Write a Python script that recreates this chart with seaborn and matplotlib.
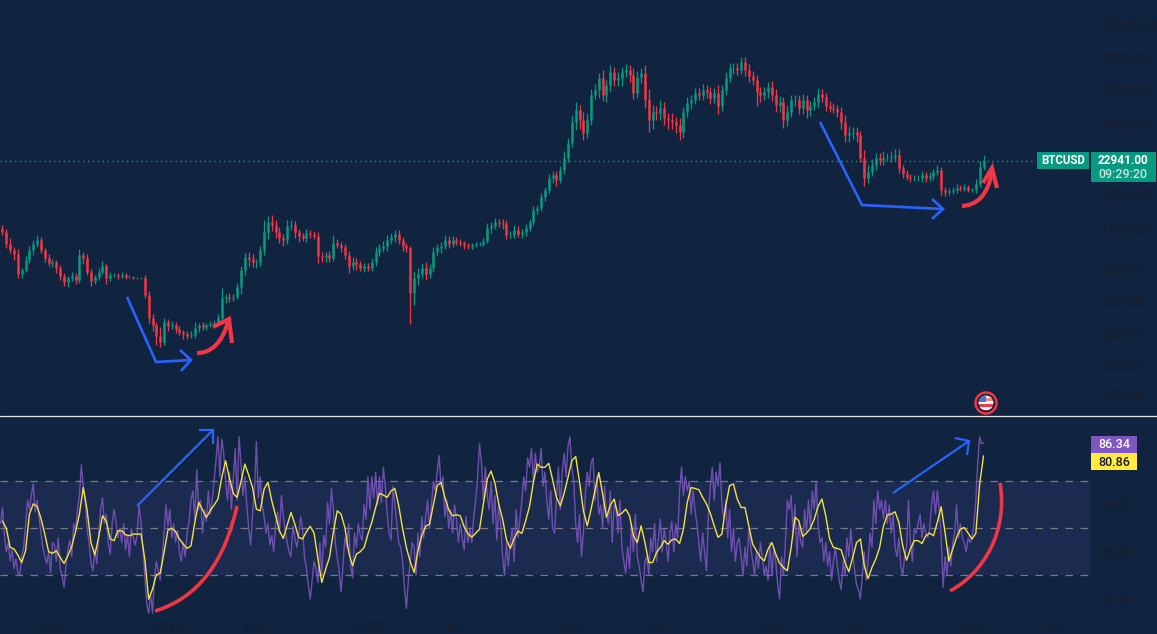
import numpy as np
import pandas as pd
import seaborn as sns
import matplotlib
matplotlib.use('Agg')
import matplotlib.pyplot as plt
import matplotlib.dates as mdates
from matplotlib.patches import Circle, PathPatch, Rectangle
from matplotlib.path import Path
from matplotlib.ticker import FixedLocator, FixedFormatter, NullLocator

# weekly BTCUSD closes
closes = [
    10600, 9300, 8680, 8320, 6710, 7000, 7800, 8680, 9300, 9700, 8680, 7960, 7550, 7630, 7160, 6550,
    6140, 6410, 6550, 6270, 8230, 7960, 6850, 6200, 6480, 6850, 7310, 6410, 6620, 6620, 6550, 6620,
    6480, 6480, 6410, 6410, 6410, 5330, 4150, 3850, 3420, 3210, 3990, 3810, 3850, 3690, 3570, 3490,
    3420, 3450, 3730, 3850, 3770, 3850, 3900, 3950, 4150, 5160, 5210, 5160, 5210, 5810, 7000, 8050,
    7880, 7630, 7630, 8680, 10600, 11800, 11400, 10600, 9900, 9700, 11300, 11400, 10600, 10120, 9900, 10450,
    10340, 10120, 8150, 8050, 8230, 7960, 9400, 9170, 8970, 8230, 7310, 7630, 7470, 7160, 7310, 7160,
    7630, 8520, 8880, 9070, 9700, 10000, 10340, 9700, 9070, 8880, 5450, 6410, 6710, 7160, 6710, 7160,
    8520, 8880, 9070, 9700, 9300, 9700, 9500, 9400, 9170, 9070, 9170, 9300, 9300, 9600, 11050, 11300,
    11800, 11650, 11500, 10250, 10250, 10800, 10340, 10600, 11050, 11800, 13400, 13700, 15450, 16700, 18950, 19600,
    18600, 20700, 23650, 27800, 34850, 39700, 35600, 30950, 35600, 46800, 49400, 56250, 46800, 52100, 60000, 55050,
    56250, 60000, 61350, 58100, 47800, 56900, 59400, 44300, 35600, 38850, 38500, 40600, 36400, 35600, 34850, 33750,
    31250, 38850, 42800, 44300, 47800, 46800, 49400, 48300, 45300, 47800, 41500, 49400, 56250, 62700, 62700, 61350,
    66900, 61350, 57500, 55050, 48300, 46800, 48300, 51000, 46800, 41950, 43350, 35600, 38850, 44300, 44300, 40600,
    44300, 39700, 41500, 43350, 47300, 45700, 41500, 40600, 40100, 38850, 34850, 30300, 30950, 31250, 30300, 23650,
    18950, 20300, 21900, 23650, 23100, 23650, 23650, 23900, 24400, 21200, 19900, 19150, 18950, 18950, 18950, 19600,
    18950, 19400, 20300, 20700, 16700, 16350, 16500, 16700, 17050, 16900, 17250, 16700, 16700, 17800, 21450, 22941,
]
first_open = 10900

# wick lengths in percent beyond the candle body
high_pct = [
    4, 3, 6, 3, 5, 2, 4, 5, 4, 5, 3, 2, 4, 3, 2, 3,
    3, 2, 4, 3, 7, 3, 4, 3, 2, 4, 6, 2, 3, 2, 2, 3,
    2, 2, 1, 1, 1, 3, 4, 5, 3, 10, 4, 3, 4, 3, 3, 2,
    3, 4, 6, 2, 3, 2, 3, 3, 4, 12, 3, 4, 3, 5, 4, 5,
    6, 5, 3, 5, 13, 7, 8, 6, 5, 4, 7, 6, 4, 3, 3, 4,
    3, 3, 4, 4, 3, 4, 9, 4, 3, 3, 4, 6, 4, 3, 3, 3,
    4, 5, 4, 6, 5, 5, 4, 4, 3, 3, 2, 8, 7, 5, 6, 4,
    5, 4, 4, 5, 4, 4, 3, 3, 2, 2, 2, 2, 2, 3, 5, 4,
    4, 3, 4, 5, 4, 5, 4, 3, 4, 3, 4, 3, 4, 3, 5, 4,
    4, 4, 7, 5, 8, 9, 6, 9, 8, 6, 7, 6, 9, 6, 8, 6,
    7, 6, 7, 5, 8, 6, 5, 9, 12, 8, 7, 9, 7, 6, 8, 6,
    8, 6, 7, 5, 6, 5, 6, 5, 6, 6, 9, 5, 7, 6, 6, 6,
    6, 5, 7, 5, 6, 6, 5, 5, 7, 6, 7, 5, 8, 6, 5, 6,
    7, 5, 5, 5, 6, 5, 4, 5, 5, 5, 6, 8, 8, 6, 6, 4,
    9, 8, 7, 5, 5, 8, 5, 7, 6, 6, 3, 4, 3, 3, 3, 4,
    3, 4, 3, 5, 3, 3, 3, 3, 4, 3, 3, 2, 2, 5, 6, 6,
]
low_pct = [
    4, 5, 3, 6, 4, 4, 2, 3, 5, 4, 3, 4, 3, 4, 5, 4,
    4, 5, 3, 4, 3, 6, 3, 5, 3, 3, 2, 6, 3, 2, 3, 2,
    2, 1, 1, 1, 1, 3, 5, 6, 9, 6, 4, 5, 3, 4, 3, 5,
    3, 2, 3, 4, 3, 3, 2, 3, 2, 3, 5, 4, 3, 2, 7, 5,
    7, 5, 6, 4, 5, 8, 6, 7, 5, 6, 4, 5, 7, 6, 3, 4,
    4, 3, 7, 5, 5, 4, 3, 3, 5, 4, 7, 4, 6, 3, 4, 3,
    3, 4, 5, 4, 5, 4, 5, 4, 5, 4, 29, 12, 7, 5, 7, 4,
    4, 5, 5, 3, 5, 3, 3, 3, 4, 3, 3, 2, 2, 2, 2, 5,
    3, 4, 5, 5, 3, 4, 3, 4, 5, 3, 3, 4, 3, 4, 3, 5,
    6, 3, 4, 5, 4, 8, 9, 7, 5, 5, 4, 8, 6, 7, 6, 6,
    6, 8, 5, 7, 6, 5, 6, 8, 12, 9, 7, 8, 7, 9, 7, 8,
    8, 6, 5, 6, 4, 5, 5, 6, 6, 5, 8, 5, 5, 4, 6, 5,
    4, 6, 6, 5, 14, 7, 5, 6, 6, 7, 7, 8, 6, 5, 6, 6,
    6, 8, 6, 4, 5, 5, 5, 4, 4, 5, 7, 7, 7, 6, 7, 5,
    8, 5, 4, 6, 5, 5, 3, 5, 4, 5, 5, 3, 4, 3, 3, 4,
    4, 3, 4, 3, 6, 5, 3, 3, 3, 3, 2, 2, 2, 3, 3, 4,
]

# RSI read twice a week
rsi = [
    52, 59, 47, 40, 44, 36, 41, 33, 37, 31, 30, 38, 42, 51, 62, 58,
    64, 69, 57, 62, 55, 48, 42, 38, 35, 40, 31, 44, 43, 36, 46, 33,
    30, 25, 34, 41, 45, 38, 52, 49, 58, 64, 77, 68, 62, 50, 44, 35,
    32, 41, 35, 47, 58, 63, 52, 56, 44, 39, 52, 58, 53, 46, 50, 44,
    52, 41, 47, 38, 50, 46, 43, 47, 60, 53, 42, 30, 18, 14, 22, 14,
    29, 36, 32, 28, 37, 48, 60, 51, 58, 46, 52, 44, 49, 40, 36, 44,
    38, 48, 53, 62, 66, 54, 75, 58, 62, 48, 58, 53, 66, 56, 62, 70,
    79, 89, 72, 88, 82, 70, 62, 74, 58, 71, 84, 62, 89, 78, 64, 72,
    60, 50, 43, 56, 66, 87, 63, 72, 60, 55, 48, 52, 43, 47, 40, 52,
    57, 48, 64, 55, 49, 44, 40, 38, 51, 46, 42, 47, 55, 50, 38, 33,
    26, 20, 28, 36, 33, 27, 44, 30, 47, 42, 61, 52, 67, 58, 44, 38,
    32, 23, 34, 46, 42, 52, 34, 29, 48, 42, 52, 47, 45, 60, 54, 72,
    58, 72, 63, 74, 60, 72, 61, 76, 68, 56, 48, 45, 68, 60, 52, 44,
    42, 36, 25, 16, 28, 36, 44, 42, 30, 48, 38, 55, 46, 55, 62, 50,
    60, 70, 66, 74, 81, 68, 72, 55, 62, 50, 58, 48, 60, 54, 44, 52,
    46, 41, 55, 44, 50, 44, 55, 62, 72, 86, 78, 62, 76, 64, 58, 70,
    52, 64, 45, 60, 52, 38, 30, 44, 34, 44, 50, 36, 58, 46, 54, 62,
    72, 66, 80, 76, 84, 70, 82, 74, 76, 84, 68, 74, 62, 54, 66, 50,
    48, 62, 76, 58, 74, 82, 72, 85, 89, 76, 70, 52, 44, 56, 38, 48,
    64, 74, 68, 78, 80, 62, 72, 56, 60, 50, 68, 56, 52, 66, 44, 60,
    58, 48, 62, 42, 36, 31, 42, 33, 52, 40, 56, 38, 34, 28, 23, 36,
    38, 30, 46, 40, 52, 36, 46, 54, 40, 50, 44, 36, 48, 53, 40, 52,
    46, 66, 76, 64, 72, 66, 70, 56, 66, 58, 52, 44, 36, 48, 40, 32,
    56, 68, 76, 62, 74, 68, 78, 60, 54, 62, 46, 58, 40, 50, 36, 44,
    46, 38, 30, 42, 34, 50, 42, 36, 30, 40, 33, 44, 38, 30, 34, 28,
    44, 30, 42, 36, 26, 20, 38, 30, 44, 62, 58, 64, 48, 60, 38, 52,
    44, 42, 58, 48, 62, 50, 66, 58, 70, 52, 44, 46, 36, 44, 34, 40,
    28, 36, 42, 34, 28, 24, 36, 30, 46, 38, 50, 40, 32, 26, 24, 20,
    30, 40, 28, 36, 48, 42, 62, 52, 66, 58, 62, 54, 62, 52, 60, 48,
    56, 42, 38, 46, 34, 30, 38, 42, 62, 44, 36, 50, 48, 52, 56, 46,
    52, 48, 46, 50, 60, 66, 56, 66, 58, 46, 25, 38, 30, 42, 34, 44,
    48, 60, 46, 52, 46, 44, 40, 46, 44, 46, 52, 62, 78, 89, 86, 86.34,
]

# yellow RSI average, weekly
rsi_ma = [
    53.1, 50, 41.9, 41.3, 38.7, 35.5, 40.5, 56.1, 60.4, 59.4, 54.3, 47.6, 40.1, 39.4, 40.5, 37.7,
    35.1, 38.4, 42.3, 48.7, 56.1, 67.4, 57.8, 44, 38.7, 46.2, 55.4, 53, 45.5, 44.8, 49, 49,
    47.3, 46.9, 47.6, 47.6, 47.6, 37, 19.9, 24.2, 30.3, 31, 39.8, 49.3, 50.1, 48.7, 45.5, 43.3,
    41.5, 42.6, 52.6, 61.1, 57.9, 54.7, 57.5, 59.9, 62.5, 71.7, 78.8, 71.3, 64.9, 63.2, 69.9, 77.4,
    72.7, 67.4, 58.2, 57.5, 66.7, 69.6, 61.8, 55.4, 49, 45.7, 51.4, 56.8, 51.8, 46.2, 45.5, 48.6,
    50.9, 48, 37, 27, 32.7, 37.7, 48.3, 57.5, 56.1, 50.4, 39.8, 34.1, 39.1, 40.1, 41.9, 47.6,
    52.6, 58.9, 65, 64.2, 63.2, 66, 67, 59.6,
    50, 41.8, 35.8, 31.3, 40.5, 46.9, 50.9, 51.8, 59.9, 68.2, 69.6, 63.2, 57.9, 55.4, 55.8, 55.4,
    50.7, 47.7, 46.3, 48, 49.7, 60.4, 71, 74.4, 69.3, 60.4, 54, 45.2, 41.5, 45.7, 48.9, 47.9,
    53.3, 59.4, 69.6, 77.4, 76, 76, 77.7, 70.7, 63.2, 59.6, 65, 71.7, 78.8, 80.6, 69.6, 57.5,
    51.1, 58.2, 66, 73.8, 64.6, 54.7, 59.9, 62.5, 55.4, 56.5, 58.2, 55.4, 46.9, 44, 51.1, 44,
    35.5, 35.5, 39.8, 41.9, 44.8, 43.3, 45.2, 45.5, 43.6, 49.7, 61.1, 67.4, 67, 66.5, 63.2, 60.4,
    56.4, 51.1, 46.2, 47.6, 59.6, 68.2, 68.9, 62.5, 58.9, 58.9, 51.1, 43.3, 40.5, 37.7, 36.2, 41.2,
    44, 39.1, 35.2, 33.4, 32, 41.9, 54.7, 53.3, 46.6, 48, 50, 54, 59.4, 62.5, 55.4, 45.5,
    41.9, 41.5, 40.9, 35.5, 31.6, 37.7, 44, 45.5, 34.1, 28.7, 33.4, 37, 41.9, 51.1, 55.7, 56.1,
    57.1, 52.6,
    42.6, 36.5, 41.2, 44.8, 44.8, 43.6, 46.9, 48, 46.9, 52.6, 59.2, 48.3, 36.2, 41.2, 46.2, 49.7,
    50.4, 48, 45.5, 47.9, 68.9, 80.86,
]

price_ticks = [100000, 70000, 50000, 34000, 16000, 11000, 7000, 5000, 3500, 2500, 1800]
rsi_ticks = [60, 40, 20]
date_ticks = ['2018-06-01', '2019-01-01', '2019-06-01', '2020-01-01', '2020-06-01', '2021-01-01',
              '2021-06-01', '2022-01-01', '2022-06-01', '2023-01-01', '2023-06-01']
date_labels = ['Jun', '2019', 'Jun', '2020', 'Jun', '2021', 'Jun', '2022', 'Jun', '2023', 'Jun']

BG = '#10243F'
BAND = '#1B2A4F'
UP = '#089981'
DOWN = '#F23645'
AXIS_TXT = '#141D2D'
BLUE = '#2962FF'
RED = '#F23645'

sns.set_theme(style='dark')
plt.rcParams['font.family'] = ['Roboto', 'DejaVu Sans']

fig = plt.figure(figsize=(11.57, 6.34), dpi=100, facecolor=BG)
ax = fig.add_axes([0, 218 / 634, 1, 416 / 634], facecolor=BG)
ax2 = fig.add_axes([0, 0, 1, 217 / 634], facecolor=BG)

dates = pd.date_range('2018-03-04', periods=len(closes), freq='7D')
closes_arr = np.array(closes, dtype=float)
opens = np.r_[first_open, closes_arr[:-1]]
body_top = np.maximum(opens, closes_arr)
body_bot = np.minimum(opens, closes_arr)
highs = body_top * (1 + np.array(high_pct) / 100)
lows = body_bot * (1 - np.array(low_pct) / 100)
colors = [UP if c >= o else DOWN for o, c in zip(opens, closes_arr)]

# candles
ax.vlines(dates, lows, highs, colors=colors, lw=0.9)
ax.vlines(dates, body_bot, body_top, colors=colors, lw=1.8)
ax.axhline(22941, xmax=1035 / 1157, color=UP, lw=1, dashes=(1, 2.5))

ax.set_yscale('log')
ax.set_ylim(1433, 131000)

# RSI panel
ax2.axhspan(30, 70, xmax=1091 / 1157, color=BAND, lw=0)
for level in [70, 50, 30]:
    ax2.axhline(level, xmax=1091 / 1157, color='#787B86', lw=0.9, dashes=(6, 6))
rsi_dates = pd.date_range(end=dates[-1], periods=len(rsi), freq='84h')
sns.lineplot(x=rsi_dates, y=rsi, ax=ax2, color='#7E57C2', lw=1.0, alpha=0.85, estimator=None)
sns.lineplot(x=dates, y=rsi_ma, ax=ax2, color='#F5E23A', lw=1.0, estimator=None)
ax2.set_ylim(5.1, 97.4)

left = mdates.date2num(pd.Timestamp('2019-01-01')) - 169 / 0.5496
right = left + 1157 / 0.5496
for a in (ax, ax2):
    a.set_xlim(left, right)
    a.grid(False)
    a.set_ylabel('')
    a.set_xlabel('')
    for s in a.spines.values():
        s.set_visible(False)
    a.yaxis.tick_right()
    a.yaxis.set_minor_locator(NullLocator())

ax.yaxis.set_major_locator(FixedLocator(price_ticks))
ax.yaxis.set_major_formatter(FixedFormatter([f'{t}.00' for t in price_ticks]))
ax2.yaxis.set_major_locator(FixedLocator(rsi_ticks))
ax2.yaxis.set_major_formatter(FixedFormatter([f'{t}.00' for t in rsi_ticks]))
for a in (ax, ax2):
    a.tick_params(axis='y', which='both', length=0, pad=-40.5, labelsize=8.6,
                  labelcolor=AXIS_TXT, right=False, labelright=True, labelleft=False)
    for lab in a.get_yticklabels():
        lab.set_ha('left')

ax.set_xticks([])
ax2.set_xticks(mdates.date2num(pd.to_datetime(date_ticks)))
ax2.set_xticklabels(date_labels)
ax2.tick_params(axis='x', length=0, pad=-9, labelsize=9.2, labelcolor=AXIS_TXT)

# hand drawn marks and price labels sit on a pixel overlay
over = fig.add_axes([0, 0, 1, 1], facecolor='none')
over.set_xlim(0, 1157)
over.set_ylim(634, 0)
over.axis('off')


def stroke(points, color, lw, curve=False):
    if curve:
        codes = [Path.MOVETO] + [Path.CURVE3 if len(points) == 3 else Path.CURVE4] * (len(points) - 1)
        over.add_patch(PathPatch(Path(points, codes), fc='none', ec=color, lw=lw, capstyle='butt'))
    else:
        xs, ys = zip(*points)
        over.plot(xs, ys, color=color, lw=lw, solid_capstyle='butt', solid_joinstyle='miter')


over.plot([0, 1157], [416, 416], color='#E4E6EA', lw=0.9)

stroke([(127, 297), (156, 362), (191, 360)], BLUE, 1.9)
stroke([(180, 350), (191, 360), (181, 371)], BLUE, 1.9)
stroke([(820, 122), (862, 205), (943, 209)], BLUE, 1.9)
stroke([(932, 199), (943, 209), (932, 219)], BLUE, 1.9)
stroke([(137, 506), (213, 430)], BLUE, 1.6)
stroke([(199, 430), (213, 430), (213, 444)], BLUE, 1.6)
stroke([(893, 493), (969, 441)], BLUE, 1.6)
stroke([(955, 438), (969, 441), (967, 455)], BLUE, 1.6)

stroke([(197, 353), (219, 353), (228, 322)], RED, 3, curve=True)
stroke([(213, 327), (229, 319), (232, 343)], RED, 3)
stroke([(962, 206), (986, 205), (992, 172)], RED, 3, curve=True)
stroke([(983, 183), (992, 168), (997, 188)], RED, 3)
stroke([(155, 611), (218, 592), (237, 506)], RED, 2.6, curve=True)
stroke([(950, 591), (985, 572), (1008, 530), (1000, 483)], RED, 2.6, curve=True)

# flag icon
over.add_patch(Circle((986, 403), 10.5, fc='#1A1A2E', ec=RED, lw=1.8))
flag = Circle((986, 403), 7.5, transform=over.transData)
for y0, col in zip(range(395, 412, 3), ['#F4F4F4', '#E88', '#F4F4F4', '#E04050', '#F4F4F4', '#E04050']):
    r = Rectangle((978, y0), 16, 3, fc=col, ec='none')
    over.add_patch(r)
    r.set_clip_path(flag)
canton = Rectangle((978, 395), 8, 7, fc='#4A76C8', ec='none')
over.add_patch(canton)
canton.set_clip_path(flag)

# labels on the right
over.add_patch(Rectangle((1037, 152), 52, 17, fc=UP, ec='none'))
over.add_patch(Rectangle((1091, 152), 65, 30, fc=UP, ec='none'))
over.text(1063, 160.5, 'BTCUSD', color='white', fontsize=8.3, ha='center', va='center', fontweight='bold')
over.text(1123, 160.5, '22941.00', color='white', fontsize=8.5, ha='center', va='center', fontweight='bold')
over.text(1123, 175, '09:29:20', color='#C6E8E0', fontsize=9, ha='center', va='center', fontweight='medium')
over.add_patch(Rectangle((1091, 436), 46, 17, fc='#7E57C2', ec='none'))
over.add_patch(Rectangle((1091, 453), 46, 17, fc='#FFEB3B', ec='none'))
over.text(1114, 445, '86.34', color='white', fontsize=9, ha='center', va='center', fontweight='medium')
over.text(1114, 462, '80.86', color='#131722', fontsize=9, ha='center', va='center', fontweight='medium')

fig.savefig('out.png', dpi=100, facecolor=BG)
